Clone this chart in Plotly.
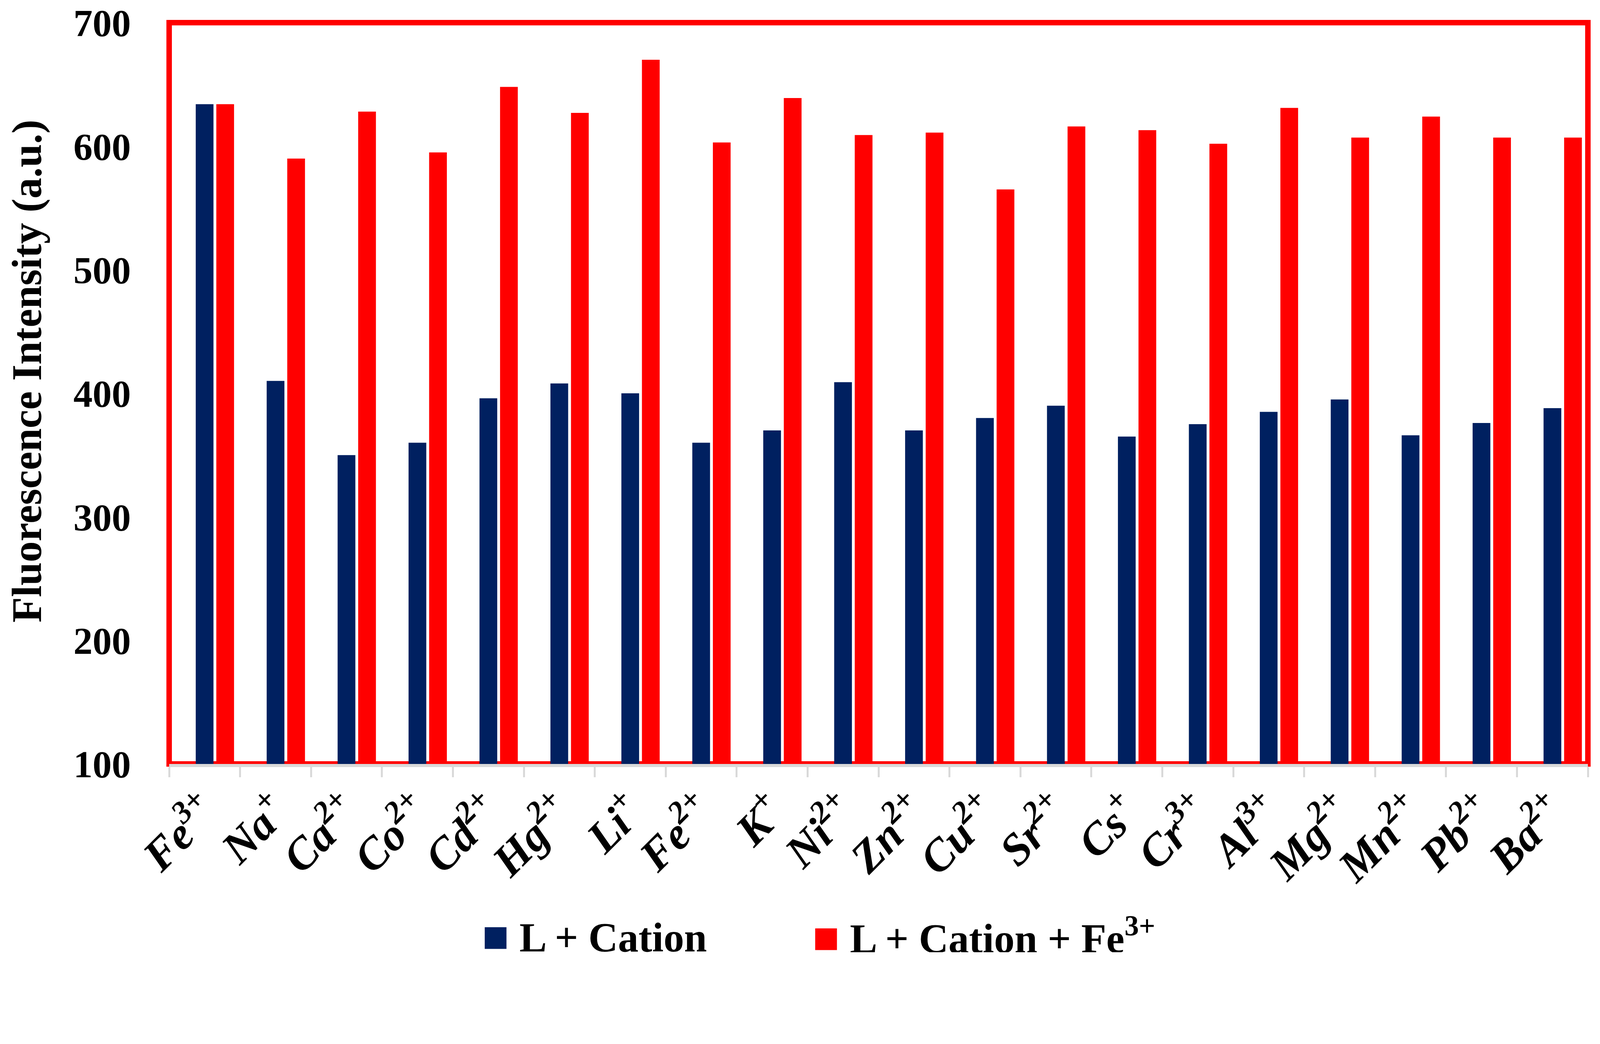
import plotly.graph_objects as go

cations = ["Fe<sup>3+</sup>", "Na<sup>+</sup>", "Ca<sup>2+</sup>", "Co<sup>2+</sup>", "Cd<sup>2+</sup>",
           "Hg<sup>2+</sup>", "Li<sup>+</sup>", "Fe<sup>2+</sup>", "K<sup>+</sup>", "Ni<sup>2+</sup>",
           "Zn<sup>2+</sup>", "Cu<sup>2+</sup>", "Sr<sup>2+</sup>", "Cs<sup>+</sup>", "Cr<sup>3+</sup>",
           "Al<sup>3+</sup>", "Mg<sup>2+</sup>", "Mn<sup>2+</sup>", "Pb<sup>2+</sup>", "Ba<sup>2+</sup>"]
l_cation = [634, 410, 350, 360, 396, 408, 400, 360, 370, 409,
            370, 380, 390, 365, 375, 385, 395, 366, 376, 388]
l_cation_fe = [634, 590, 628, 595, 648, 627, 670, 603, 639, 609,
               611, 565, 616, 613, 602, 631, 607, 624, 607, 607]
y_ticks = [100, 200, 300, 400, 500, 600, 700]

BLUE = "#002060"
RED = "#FF0000"
FONT = "Liberation Serif"

fig = go.Figure()
fig.add_trace(go.Bar(x=cations, y=l_cation, name="L + Cation",
                     marker=dict(color=BLUE, line=dict(width=0)),
                     width=0.25, offset=-0.125, showlegend=False))
fig.add_trace(go.Bar(x=cations, y=l_cation_fe, name="L + Cation + Fe<sup>3+</sup>",
                     marker=dict(color=RED, line=dict(width=0)),
                     width=0.25, offset=0.165, showlegend=False))

W, H = 4070, 2430
ml, mr, mt, mb = 425, 13, 50, 482

fig.update_layout(
    width=W, height=H,
    margin=dict(l=ml, r=mr, t=mt, b=mb, autoexpand=False),
    paper_bgcolor="white", plot_bgcolor="white",
    barmode="group",
    font=dict(family=FONT, color="black"),
    showlegend=False,
)
fig.update_xaxes(
    type="category",
    showline=True, linecolor="#D9D9D9", linewidth=8,
    ticks="outside", tickson="boundaries", ticklen=26, tickwidth=5, tickcolor="#D9D9D9",
    tickangle=-45,
    tickfont=dict(family=FONT, size=115, weight="bold", style="italic", color="black"),
    showgrid=False, zeroline=False, automargin=False,
)
fig.update_yaxes(
    range=[100, 700], tickvals=y_ticks, ticktext=[str(v) for v in y_ticks],
    showline=False, showgrid=False, zeroline=False, ticks="",
    ticklabelstandoff=97, ticklabeloverflow="allow",
    tickfont=dict(family=FONT, size=98, weight="bold", color="black"),
    automargin=False,
)

# plot-area frame
fig.add_shape(type="rect", xref="paper", yref="paper", x0=0, x1=1, y0=0, y1=1,
              line=dict(color=RED, width=14), layer="below")

# y-axis title
fig.add_annotation(xref="paper", yref="paper", x=0, y=0.530, xshift=-364,
                   xanchor="center", yanchor="middle", textangle=-90, showarrow=False,
                   text="Fluorescence Intensity (a.u.)",
                   font=dict(family=FONT, size=107, weight="bold", color="black"))

# legend (drawn as text)
leg_y = -0.2325
fig.add_annotation(xref="paper", yref="paper", x=0.220, y=leg_y, xanchor="left", yanchor="middle",
                   showarrow=False,
                   text='<span style="color:%s;font-size:115px">■</span> L + Cation' % BLUE,
                   font=dict(family=FONT, size=105, weight="bold", color="black"))
fig.add_annotation(xref="paper", yref="paper", x=0.453, y=leg_y, xanchor="left", yanchor="middle",
                   showarrow=False,
                   text='<span style="color:%s;font-size:115px">■</span> L + Cation + Fe<sup>3+</sup>' % RED,
                   font=dict(family=FONT, size=105, weight="bold", color="black"))

fig.write_html("out.html")
